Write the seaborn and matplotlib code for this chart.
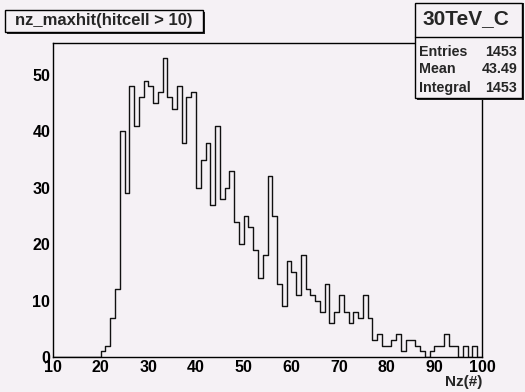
import numpy as np
import pandas as pd
import matplotlib
matplotlib.use("Agg")
import matplotlib.pyplot as plt
import seaborn as sns
from matplotlib.patches import Rectangle
from matplotlib.lines import Line2D
from matplotlib.ticker import MultipleLocator

# ---- data ----
bin_edges = list(range(10, 101))
counts = [0] * 10 + [
    1, 2, 7, 12, 40, 29, 48, 41, 46, 49,
    48, 45, 47, 53, 46, 44, 48, 38, 46, 47,
    30, 35, 38, 27, 41, 28, 30, 33, 24, 20,
    25, 23, 19, 14, 18, 32, 25, 13, 9, 17,
    15, 11, 18, 12, 11, 10, 8, 13, 6, 8,
    11, 8, 6, 8, 7, 11, 7, 3, 4, 2,
    2, 3, 4, 1, 3, 3, 2, 1, 0, 1,
    2, 2, 4, 2, 2, 0, 2, 0, 2, 0,
]
hist_title = "nz_maxhit(hitcell > 10)"
stats_title = "30TeV_C"
stats_labels = ["Entries", "Mean", "Integral"]
stats_values = ["1453", "43.49", "1453"]
x_label = "Nz(#)"
x_ticks = [10, 20, 30, 40, 50, 60, 70, 80, 90, 100]
y_ticks = [0, 10, 20, 30, 40, 50]

BG = "#f5f1f5"
W, H = 525, 392

sns.set_theme(style="white")
plt.rcParams["font.family"] = ["Liberation Sans", "DejaVu Sans"]
plt.rcParams["font.weight"] = "bold"

fig = plt.figure(figsize=(W / 100, H / 100), dpi=100, facecolor=BG)
ax = fig.add_axes([53 / W, 1 - 357 / H, (482 - 53) / W, (357 - 43) / H])
ax.set_facecolor(BG)

df = pd.DataFrame({"x": [e + 0.5 for e in bin_edges[:-1]], "w": counts})
sns.histplot(data=df, x="x", weights="w", bins=bin_edges, element="step",
             fill=False, color="#111111", linewidth=1.0, ax=ax)

ax.set_xlim(10, 100)
ax.set_ylim(0, 55.65)
ax.set_xlabel("")
ax.set_ylabel("")
ax.set_xticks(x_ticks)
ax.set_yticks(y_ticks)
ax.xaxis.set_minor_locator(MultipleLocator(2))
ax.yaxis.set_minor_locator(MultipleLocator(2))
ax.tick_params(axis="both", which="both", direction="in", colors="black",
               labelsize=11.5, width=1.0)
ax.tick_params(axis="y", which="major", length=9.5, pad=2)
ax.tick_params(axis="y", which="minor", length=4.5)
ax.tick_params(axis="x", which="major", length=6.5, pad=2.5)
ax.tick_params(axis="x", which="minor", length=3.6)
for lab in ax.get_xticklabels() + ax.get_yticklabels():
    lab.set_fontweight("bold")
for s in ax.spines.values():
    s.set_color("black")
    s.set_linewidth(1.0)

def fx(x):
    return x / W

def fy(y):
    return 1 - y / H

fig.text(fx(482), fy(382), x_label, ha="right", va="center",
         fontsize=11, fontweight="bold")

# title box with shadow
fig.add_artist(Rectangle((fx(7), fy(34)), fx(198), (32 - 10) / H,
                         transform=fig.transFigure, facecolor="#222222",
                         edgecolor="none", zorder=5))
fig.add_artist(Rectangle((fx(5), fy(32)), fx(198), (32 - 10) / H,
                         transform=fig.transFigure, facecolor=BG,
                         edgecolor="black", linewidth=1.0, zorder=6))
fig.text(fx(104), fy(21), hist_title, ha="center", va="center",
         fontsize=12, fontweight="bold", zorder=7)

# stats box
fig.add_artist(Rectangle((fx(417), fy(100)), fx(107), (100 - 3) / H,
                         transform=fig.transFigure, facecolor="#222222",
                         edgecolor="none", zorder=5))
fig.add_artist(Rectangle((fx(415), fy(98)), fx(107), (98 - 3) / H,
                         transform=fig.transFigure, facecolor=BG,
                         edgecolor="black", linewidth=1.0, zorder=6))
fig.add_artist(Line2D([fx(415), fx(522)], [fy(37), fy(37)],
                      transform=fig.transFigure, color="black",
                      linewidth=1.0, zorder=7))
fig.text(fx(466), fy(19), stats_title, ha="center", va="center",
         fontsize=15, fontweight="bold", zorder=7)
for i, (lab, val) in enumerate(zip(stats_labels, stats_values)):
    yy = [52, 69, 88][i]
    fig.text(fx(419), fy(yy), lab, ha="left", va="center",
             fontsize=10.3, fontweight="bold", zorder=7)
    fig.text(fx(517), fy(yy), val, ha="right", va="center",
             fontsize=10.3, fontweight="bold", zorder=7)

fig.savefig("out.png", dpi=100, facecolor=BG)
